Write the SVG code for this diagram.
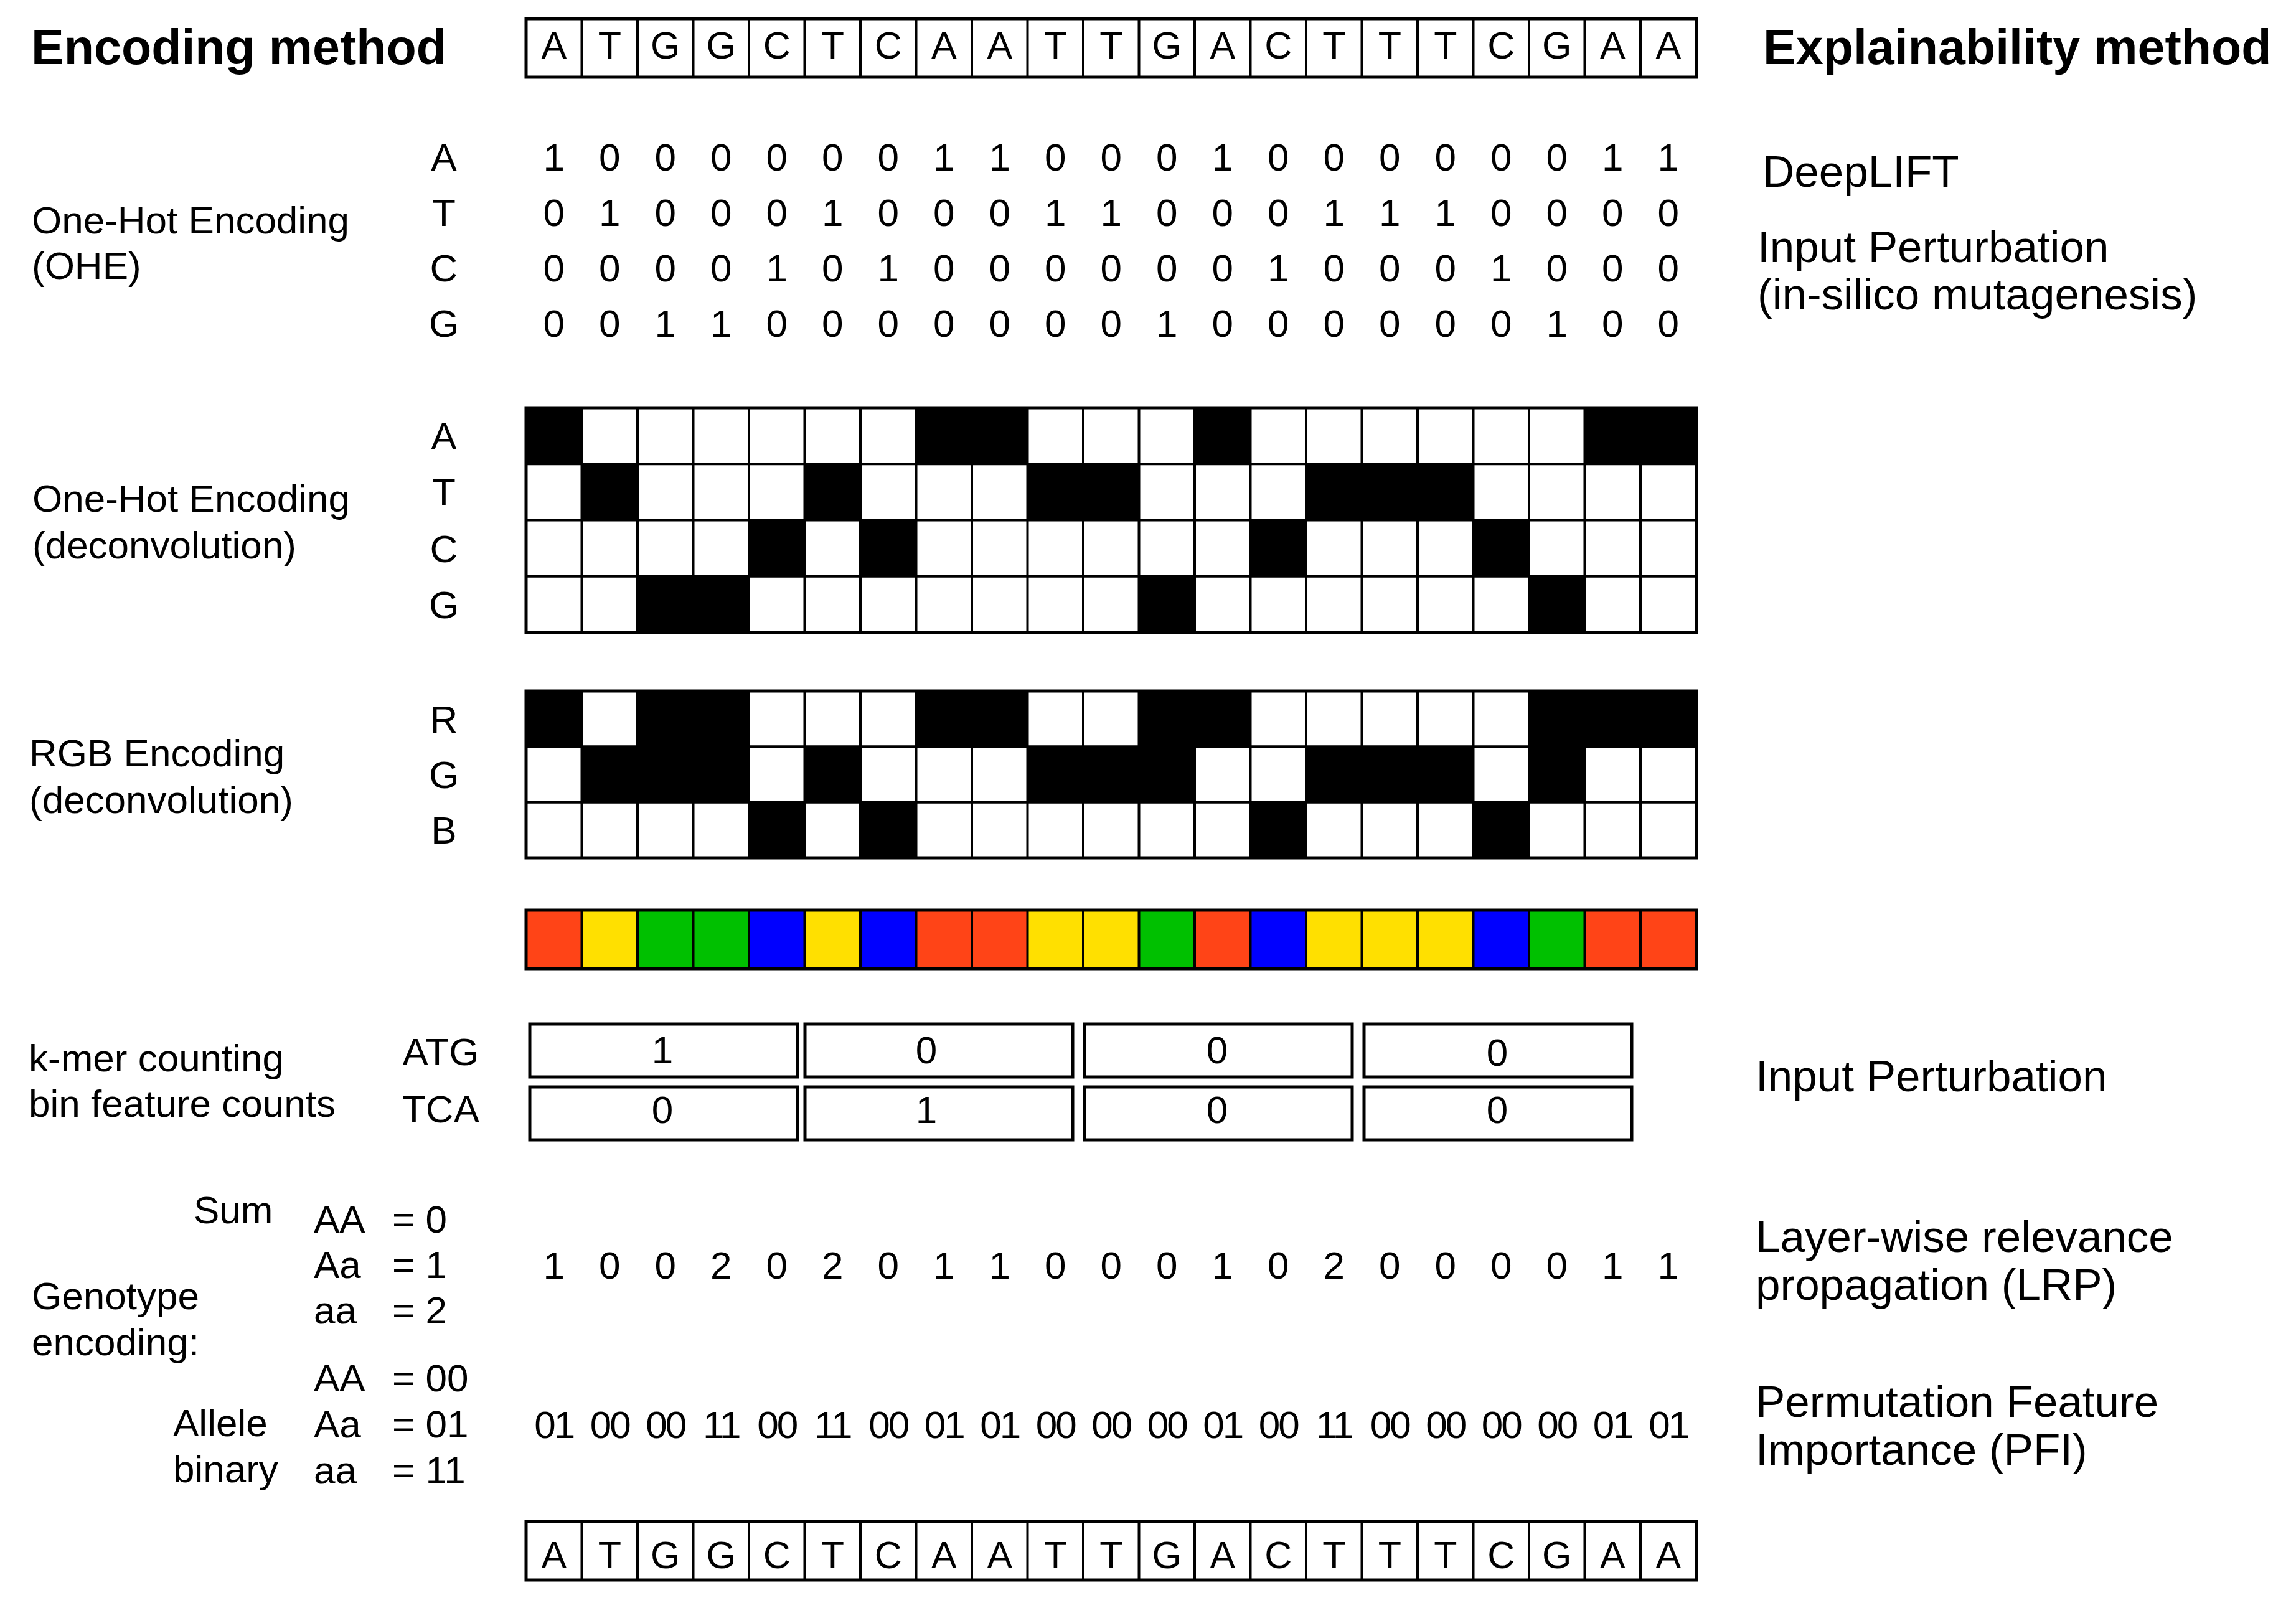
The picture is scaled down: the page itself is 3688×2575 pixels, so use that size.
<svg xmlns="http://www.w3.org/2000/svg" width="3688" height="2575" viewBox="0 0 3688 2575">
<style>
text{font-family:"Liberation Sans",Arial,Helvetica,sans-serif;font-size:62px;fill:#000}
.c{text-anchor:middle}
.b{font-weight:bold;font-size:79px}
.r{font-size:71px}
.s{font-size:61px;text-anchor:middle}
.al{text-anchor:middle;letter-spacing:-3px}
.ln{fill:none;stroke:#000;stroke-width:4}
.ol{fill:none;stroke:#000;stroke-width:5}
.k{fill:#000}
.red{fill:#FF4417}.yel{fill:#FFE000}.grn{fill:#00C000}.blu{fill:#0000FF}
</style>
<rect width="3688" height="2575" fill="#fff"/>

<g id="headers">
<text class="b" x="50" y="103">Encoding method</text>
<text class="b" x="2832" y="103">Explainability method</text>
</g>

<g id="sequence-top">
<rect x="845" y="30" width="1879.5" height="94" fill="#fff"/>
<path class="ln" d="M934.5 30v94m89.5-94v94m89.5-94v94m89.5-94v94m89.5-94v94m89.5-94v94m89.5-94v94m89.5-94v94m89.5-94v94m89.5-94v94m89.5-94v94m89.5-94v94m89.5-94v94m89.5-94v94m89.5-94v94m89.5-94v94m89.5-94v94m89.5-94v94m89.5-94v94m89.5-94v94"/>
<rect class="ol" x="845" y="30" width="1879.5" height="94"/>
<text class="s" x="889.8" y="94">A</text><text class="s" x="979.3" y="94">T</text><text class="s" x="1068.8" y="94">G</text><text class="s" x="1158.3" y="94">G</text><text class="s" x="1247.8" y="94">C</text><text class="s" x="1337.3" y="94">T</text><text class="s" x="1426.8" y="94">C</text><text class="s" x="1516.3" y="94">A</text><text class="s" x="1605.8" y="94">A</text><text class="s" x="1695.3" y="94">T</text><text class="s" x="1784.8" y="94">T</text><text class="s" x="1874.3" y="94">G</text><text class="s" x="1963.8" y="94">A</text><text class="s" x="2053.3" y="94">C</text><text class="s" x="2142.8" y="94">T</text><text class="s" x="2232.3" y="94">T</text><text class="s" x="2321.8" y="94">T</text><text class="s" x="2411.3" y="94">C</text><text class="s" x="2500.8" y="94">G</text><text class="s" x="2590.3" y="94">A</text><text class="s" x="2679.8" y="94">A</text>
</g>

<g id="ohe">
<text x="51" y="375">One-Hot Encoding</text>
<text x="51" y="448">(OHE)</text>
<text class="c" x="713" y="274">A</text>
<text class="c" x="713" y="363">T</text>
<text class="c" x="713" y="452">C</text>
<text class="c" x="713" y="541">G</text>
<text class="c" x="889.8" y="274">1</text><text class="c" x="979.3" y="274">0</text><text class="c" x="1068.8" y="274">0</text><text class="c" x="1158.3" y="274">0</text><text class="c" x="1247.8" y="274">0</text><text class="c" x="1337.3" y="274">0</text><text class="c" x="1426.8" y="274">0</text><text class="c" x="1516.3" y="274">1</text><text class="c" x="1605.8" y="274">1</text><text class="c" x="1695.3" y="274">0</text><text class="c" x="1784.8" y="274">0</text><text class="c" x="1874.3" y="274">0</text><text class="c" x="1963.8" y="274">1</text><text class="c" x="2053.3" y="274">0</text><text class="c" x="2142.8" y="274">0</text><text class="c" x="2232.3" y="274">0</text><text class="c" x="2321.8" y="274">0</text><text class="c" x="2411.3" y="274">0</text><text class="c" x="2500.8" y="274">0</text><text class="c" x="2590.3" y="274">1</text><text class="c" x="2679.8" y="274">1</text>
<text class="c" x="889.8" y="363">0</text><text class="c" x="979.3" y="363">1</text><text class="c" x="1068.8" y="363">0</text><text class="c" x="1158.3" y="363">0</text><text class="c" x="1247.8" y="363">0</text><text class="c" x="1337.3" y="363">1</text><text class="c" x="1426.8" y="363">0</text><text class="c" x="1516.3" y="363">0</text><text class="c" x="1605.8" y="363">0</text><text class="c" x="1695.3" y="363">1</text><text class="c" x="1784.8" y="363">1</text><text class="c" x="1874.3" y="363">0</text><text class="c" x="1963.8" y="363">0</text><text class="c" x="2053.3" y="363">0</text><text class="c" x="2142.8" y="363">1</text><text class="c" x="2232.3" y="363">1</text><text class="c" x="2321.8" y="363">1</text><text class="c" x="2411.3" y="363">0</text><text class="c" x="2500.8" y="363">0</text><text class="c" x="2590.3" y="363">0</text><text class="c" x="2679.8" y="363">0</text>
<text class="c" x="889.8" y="452">0</text><text class="c" x="979.3" y="452">0</text><text class="c" x="1068.8" y="452">0</text><text class="c" x="1158.3" y="452">0</text><text class="c" x="1247.8" y="452">1</text><text class="c" x="1337.3" y="452">0</text><text class="c" x="1426.8" y="452">1</text><text class="c" x="1516.3" y="452">0</text><text class="c" x="1605.8" y="452">0</text><text class="c" x="1695.3" y="452">0</text><text class="c" x="1784.8" y="452">0</text><text class="c" x="1874.3" y="452">0</text><text class="c" x="1963.8" y="452">0</text><text class="c" x="2053.3" y="452">1</text><text class="c" x="2142.8" y="452">0</text><text class="c" x="2232.3" y="452">0</text><text class="c" x="2321.8" y="452">0</text><text class="c" x="2411.3" y="452">1</text><text class="c" x="2500.8" y="452">0</text><text class="c" x="2590.3" y="452">0</text><text class="c" x="2679.8" y="452">0</text>
<text class="c" x="889.8" y="541">0</text><text class="c" x="979.3" y="541">0</text><text class="c" x="1068.8" y="541">1</text><text class="c" x="1158.3" y="541">1</text><text class="c" x="1247.8" y="541">0</text><text class="c" x="1337.3" y="541">0</text><text class="c" x="1426.8" y="541">0</text><text class="c" x="1516.3" y="541">0</text><text class="c" x="1605.8" y="541">0</text><text class="c" x="1695.3" y="541">0</text><text class="c" x="1784.8" y="541">0</text><text class="c" x="1874.3" y="541">1</text><text class="c" x="1963.8" y="541">0</text><text class="c" x="2053.3" y="541">0</text><text class="c" x="2142.8" y="541">0</text><text class="c" x="2232.3" y="541">0</text><text class="c" x="2321.8" y="541">0</text><text class="c" x="2411.3" y="541">0</text><text class="c" x="2500.8" y="541">1</text><text class="c" x="2590.3" y="541">0</text><text class="c" x="2679.8" y="541">0</text>
</g>

<g id="ohe-deconvolution">
<text x="52" y="822">One-Hot Encoding</text>
<text x="52" y="897">(deconvolution)</text>
<text class="c" x="713" y="722">A</text>
<text class="c" x="713" y="812">T</text>
<text class="c" x="713" y="903">C</text>
<text class="c" x="713" y="993">G</text>
<rect x="845" y="655" width="1879.5" height="361" fill="#fff"/>
<rect class="k" x="845" y="655" width="89.5" height="90.25"/>
<rect class="k" x="1471.5" y="655" width="179" height="90.25"/>
<rect class="k" x="1919" y="655" width="89.5" height="90.25"/>
<rect class="k" x="2545.5" y="655" width="179" height="90.25"/>
<rect class="k" x="934.5" y="745.25" width="89.5" height="90.25"/>
<rect class="k" x="1292.5" y="745.25" width="89.5" height="90.25"/>
<rect class="k" x="1650.5" y="745.25" width="179" height="90.25"/>
<rect class="k" x="2098" y="745.25" width="268.5" height="90.25"/>
<rect class="k" x="1203" y="835.5" width="89.5" height="90.25"/>
<rect class="k" x="1382" y="835.5" width="89.5" height="90.25"/>
<rect class="k" x="2008.5" y="835.5" width="89.5" height="90.25"/>
<rect class="k" x="2366.5" y="835.5" width="89.5" height="90.25"/>
<rect class="k" x="1024" y="925.75" width="179" height="90.25"/>
<rect class="k" x="1829.5" y="925.75" width="89.5" height="90.25"/>
<rect class="k" x="2456" y="925.75" width="89.5" height="90.25"/>
<path class="ln" d="M934.5 655v361m89.5-361v361m89.5-361v361m89.5-361v361m89.5-361v361m89.5-361v361m89.5-361v361m89.5-361v361m89.5-361v361m89.5-361v361m89.5-361v361m89.5-361v361m89.5-361v361m89.5-361v361m89.5-361v361m89.5-361v361m89.5-361v361m89.5-361v361m89.5-361v361m89.5-361v361M845 745.25H2724.5M845 835.5H2724.5M845 925.75H2724.5"/>
<rect class="ol" x="845" y="655" width="1879.5" height="361"/>
</g>

<g id="rgb-deconvolution">
<text x="47" y="1231">RGB Encoding</text>
<text x="47" y="1306">(deconvolution)</text>
<text class="c" x="713" y="1177">R</text>
<text class="c" x="713" y="1266">G</text>
<text class="c" x="713" y="1355">B</text>
<rect x="845" y="1110" width="1879.5" height="268" fill="#fff"/>
<rect class="k" x="845" y="1110" width="89.5" height="89.33"/>
<rect class="k" x="1024" y="1110" width="179" height="89.33"/>
<rect class="k" x="1471.5" y="1110" width="179" height="89.33"/>
<rect class="k" x="1829.5" y="1110" width="179" height="89.33"/>
<rect class="k" x="2456" y="1110" width="268.5" height="89.33"/>
<rect class="k" x="934.5" y="1199.33" width="268.5" height="89.33"/>
<rect class="k" x="1292.5" y="1199.33" width="89.5" height="89.33"/>
<rect class="k" x="1650.5" y="1199.33" width="268.5" height="89.33"/>
<rect class="k" x="2098" y="1199.33" width="268.5" height="89.33"/>
<rect class="k" x="2456" y="1199.33" width="89.5" height="89.33"/>
<rect class="k" x="1203" y="1288.67" width="89.5" height="89.33"/>
<rect class="k" x="1382" y="1288.67" width="89.5" height="89.33"/>
<rect class="k" x="2008.5" y="1288.67" width="89.5" height="89.33"/>
<rect class="k" x="2366.5" y="1288.67" width="89.5" height="89.33"/>
<path class="ln" d="M934.5 1110v268m89.5-268v268m89.5-268v268m89.5-268v268m89.5-268v268m89.5-268v268m89.5-268v268m89.5-268v268m89.5-268v268m89.5-268v268m89.5-268v268m89.5-268v268m89.5-268v268m89.5-268v268m89.5-268v268m89.5-268v268m89.5-268v268m89.5-268v268m89.5-268v268m89.5-268v268M845 1199.33H2724.5M845 1288.67H2724.5"/>
<rect class="ol" x="845" y="1110" width="1879.5" height="268"/>
</g>

<g id="rgb-colour-bar">
<rect class="red" x="845" y="1462" width="89.5" height="94"/>
<rect class="yel" x="934.5" y="1462" width="89.5" height="94"/>
<rect class="grn" x="1024" y="1462" width="179" height="94"/>
<rect class="blu" x="1203" y="1462" width="89.5" height="94"/>
<rect class="yel" x="1292.5" y="1462" width="89.5" height="94"/>
<rect class="blu" x="1382" y="1462" width="89.5" height="94"/>
<rect class="red" x="1471.5" y="1462" width="179" height="94"/>
<rect class="yel" x="1650.5" y="1462" width="179" height="94"/>
<rect class="grn" x="1829.5" y="1462" width="89.5" height="94"/>
<rect class="red" x="1919" y="1462" width="89.5" height="94"/>
<rect class="blu" x="2008.5" y="1462" width="89.5" height="94"/>
<rect class="yel" x="2098" y="1462" width="268.5" height="94"/>
<rect class="blu" x="2366.5" y="1462" width="89.5" height="94"/>
<rect class="grn" x="2456" y="1462" width="89.5" height="94"/>
<rect class="red" x="2545.5" y="1462" width="179" height="94"/>
<path class="ln" d="M934.5 1462v94m89.5-94v94m89.5-94v94m89.5-94v94m89.5-94v94m89.5-94v94m89.5-94v94m89.5-94v94m89.5-94v94m89.5-94v94m89.5-94v94m89.5-94v94m89.5-94v94m89.5-94v94m89.5-94v94m89.5-94v94m89.5-94v94m89.5-94v94m89.5-94v94m89.5-94v94"/>
<rect class="ol" x="845" y="1462" width="1879.5" height="94"/>
</g>

<g id="kmer">
<text x="46" y="1721">k-mer counting</text>
<text x="46" y="1794">bin feature counts</text>
<text class="c" x="708" y="1711">ATG</text>
<text class="c" x="708" y="1803">TCA</text>
<rect class="ol" x="851" y="1645" width="430" height="85"/>
<rect class="ol" x="1293" y="1645" width="430" height="85"/>
<rect class="ol" x="1742" y="1645" width="430" height="85"/>
<rect class="ol" x="2191" y="1645" width="430" height="85"/>
<rect class="ol" x="851" y="1746" width="430" height="85"/>
<rect class="ol" x="1293" y="1746" width="430" height="85"/>
<rect class="ol" x="1742" y="1746" width="430" height="85"/>
<rect class="ol" x="2191" y="1746" width="430" height="85"/>
<text class="c" x="1064" y="1708">1</text>
<text class="c" x="1488" y="1708">0</text>
<text class="c" x="1955" y="1708">0</text>
<text class="c" x="2405" y="1712">0</text>
<text class="c" x="1064" y="1804">0</text>
<text class="c" x="1488" y="1804">1</text>
<text class="c" x="1955" y="1804">0</text>
<text class="c" x="2405" y="1804">0</text>
</g>

<g id="genotype-sum">
<text x="311" y="1965">Sum</text>
<text x="51" y="2103">Genotype</text>
<text x="51" y="2177">encoding:</text>
<text x="504" y="1980">AA</text><text x="630" y="1980">= 0</text>
<text x="504" y="2053">Aa</text><text x="630" y="2053">= 1</text>
<text x="504" y="2126">aa</text><text x="630" y="2126">= 2</text>
<text class="c" x="889.8" y="2054">1</text><text class="c" x="979.3" y="2054">0</text><text class="c" x="1068.8" y="2054">0</text><text class="c" x="1158.3" y="2054">2</text><text class="c" x="1247.8" y="2054">0</text><text class="c" x="1337.3" y="2054">2</text><text class="c" x="1426.8" y="2054">0</text><text class="c" x="1516.3" y="2054">1</text><text class="c" x="1605.8" y="2054">1</text><text class="c" x="1695.3" y="2054">0</text><text class="c" x="1784.8" y="2054">0</text><text class="c" x="1874.3" y="2054">0</text><text class="c" x="1963.8" y="2054">1</text><text class="c" x="2053.3" y="2054">0</text><text class="c" x="2142.8" y="2054">2</text><text class="c" x="2232.3" y="2054">0</text><text class="c" x="2321.8" y="2054">0</text><text class="c" x="2411.3" y="2054">0</text><text class="c" x="2500.8" y="2054">0</text><text class="c" x="2590.3" y="2054">1</text><text class="c" x="2679.8" y="2054">1</text>
</g>

<g id="genotype-allele-binary">
<text x="278" y="2307">Allele</text>
<text x="278" y="2381">binary</text>
<text x="504" y="2235">AA</text><text x="630" y="2235">= 00</text>
<text x="504" y="2309">Aa</text><text x="630" y="2309">= 01</text>
<text x="504" y="2383">aa</text><text x="630" y="2383">= 11</text>
<text class="al" x="889.8" y="2310">01</text><text class="al" x="979.3" y="2310">00</text><text class="al" x="1068.8" y="2310">00</text><text class="al" x="1158.3" y="2310">11</text><text class="al" x="1247.8" y="2310">00</text><text class="al" x="1337.3" y="2310">11</text><text class="al" x="1426.8" y="2310">00</text><text class="al" x="1516.3" y="2310">01</text><text class="al" x="1605.8" y="2310">01</text><text class="al" x="1695.3" y="2310">00</text><text class="al" x="1784.8" y="2310">00</text><text class="al" x="1874.3" y="2310">00</text><text class="al" x="1963.8" y="2310">01</text><text class="al" x="2053.3" y="2310">00</text><text class="al" x="2142.8" y="2310">11</text><text class="al" x="2232.3" y="2310">00</text><text class="al" x="2321.8" y="2310">00</text><text class="al" x="2411.3" y="2310">00</text><text class="al" x="2500.8" y="2310">00</text><text class="al" x="2590.3" y="2310">01</text><text class="al" x="2679.8" y="2310">01</text>
</g>

<g id="sequence-bottom">
<rect x="845" y="2444" width="1879.5" height="94" fill="#fff"/>
<path class="ln" d="M934.5 2444v94m89.5-94v94m89.5-94v94m89.5-94v94m89.5-94v94m89.5-94v94m89.5-94v94m89.5-94v94m89.5-94v94m89.5-94v94m89.5-94v94m89.5-94v94m89.5-94v94m89.5-94v94m89.5-94v94m89.5-94v94m89.5-94v94m89.5-94v94m89.5-94v94m89.5-94v94"/>
<rect class="ol" x="845" y="2444" width="1879.5" height="94"/>
<text class="s" x="889.8" y="2519">A</text><text class="s" x="979.3" y="2519">T</text><text class="s" x="1068.8" y="2519">G</text><text class="s" x="1158.3" y="2519">G</text><text class="s" x="1247.8" y="2519">C</text><text class="s" x="1337.3" y="2519">T</text><text class="s" x="1426.8" y="2519">C</text><text class="s" x="1516.3" y="2519">A</text><text class="s" x="1605.8" y="2519">A</text><text class="s" x="1695.3" y="2519">T</text><text class="s" x="1784.8" y="2519">T</text><text class="s" x="1874.3" y="2519">G</text><text class="s" x="1963.8" y="2519">A</text><text class="s" x="2053.3" y="2519">C</text><text class="s" x="2142.8" y="2519">T</text><text class="s" x="2232.3" y="2519">T</text><text class="s" x="2321.8" y="2519">T</text><text class="s" x="2411.3" y="2519">C</text><text class="s" x="2500.8" y="2519">G</text><text class="s" x="2590.3" y="2519">A</text><text class="s" x="2679.8" y="2519">A</text>
</g>

<g id="explainability-methods">
<text class="r" x="2831" y="300">DeepLIFT</text>
<text class="r" x="2823" y="421">Input Perturbation</text>
<text class="r" x="2823" y="497">(in-silico mutagenesis)</text>
<text class="r" x="2820" y="1753">Input Perturbation</text>
<text class="r" x="2820" y="2011">Layer-wise relevance</text>
<text class="r" x="2820" y="2088">propagation (LRP)</text>
<text class="r" x="2820" y="2276">Permutation Feature</text>
<text class="r" x="2820" y="2353">Importance (PFI)</text>
</g>

<g id="connectors"></g>
</svg>
